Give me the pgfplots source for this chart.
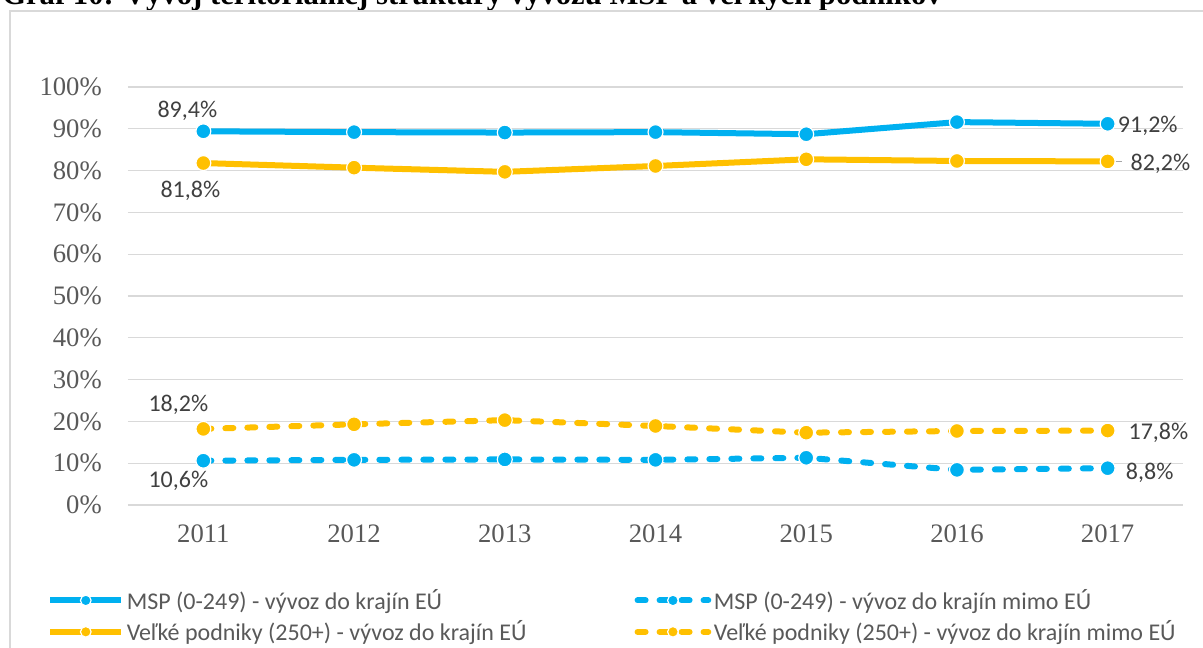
\documentclass[border=0pt]{standalone}
\usepackage{pgfplots}
\pgfplotsset{compat=1.18}
\usepackage{fontspec}
\setmainfont{Liberation Serif}
\newfontfamily\calibri{Carlito}
\definecolor{mspblue}{HTML}{00B0F0}
\definecolor{vpyellow}{HTML}{FFC000}
\definecolor{gridgray}{HTML}{D9D9D9}
\definecolor{labeltext}{HTML}{404040}
\definecolor{ticktext}{HTML}{595959}
\definecolor{leadergray}{HTML}{A6A6A6}
\begin{document}
\begin{tikzpicture}
\useasboundingbox (0,0) rectangle (902.25pt,486pt);
\clip (0,0) rectangle (902.25pt,486pt);
% title (cut off at top)
\node[anchor=base west, font=\bfseries\fontsize{23}{27}\selectfont, inner sep=0pt] at (1.5pt,482.25pt) {Graf 10: Vývoj teritoriálnej štruktúry vývozu MSP a veľkých podnikov};
% frame
\draw[gridgray, line width=1.1pt] (7.5pt,-10pt) -- (7.5pt,477.75pt) -- (920pt,477.75pt);
\begin{axis}[
  at={(96pt,107.25pt)}, anchor=south west,
  scale only axis, width=791.25pt, height=313.5pt,
  xmin=-0.5, xmax=6.5, ymin=0, ymax=100,
  axis line style={draw=none},
  major tick length=0pt,
  xtick={0,1,2,3,4,5,6},
  xticklabels={2011,2012,2013,2014,2015,2016,2017},
  ytick={0,10,20,30,40,50,60,70,80,90,100},
  yticklabels={0\%,10\%,20\%,30\%,40\%,50\%,60\%,70\%,80\%,90\%,100\%},
  tick label style={font=\fontsize{20}{24}\selectfont, text=ticktext},
  yticklabel style={anchor=east, inner sep=0pt, xshift=-19.5pt},
  xticklabel style={anchor=north, inner sep=0pt, yshift=-15pt},
  ymajorgrids, grid style={draw=gridgray, line width=0.8pt},
  clip=false,
  legend columns=2,
  legend cell align=left,
  legend style={at={(-0.0766,-0.195)}, anchor=north west, draw=none, fill=none,
    inner sep=0pt, font=\calibri\fontsize{18}{21}\selectfont, text=ticktext,
    row sep=3pt, nodes={inner sep=2pt},
    /tikz/every even column/.append style={column sep=79pt}},
  legend image code/.code={\draw[mark repeat=2,mark phase=2,#1,mark size=4pt] plot coordinates {(0pt,0pt) (26.5pt,0pt) (53pt,0pt)};},
  every axis plot/.append style={line width=4.5pt, line join=round},
]
\addplot[color=mspblue, mark=*, mark size=5.6pt, mark options={solid, fill=mspblue, draw=white, line width=0.9pt}]
  coordinates {(0,89.4) (1,89.2) (2,89.1) (3,89.2) (4,88.7) (5,91.6) (6,91.2)};
\addlegendentry{MSP (0-249) - vývoz do krajín EÚ}
\addplot[color=mspblue, line cap=round, dash pattern=on 6pt off 10.5pt, mark=*, mark size=5.6pt, mark options={solid, fill=mspblue, draw=white, line width=0.9pt}]
  coordinates {(0,10.6) (1,10.8) (2,10.9) (3,10.8) (4,11.3) (5,8.4) (6,8.8)};
\addlegendentry{MSP (0-249) - vývoz do krajín mimo EÚ}
\addplot[color=vpyellow, mark=*, mark size=5.6pt, mark options={solid, fill=vpyellow, draw=white, line width=0.9pt}]
  coordinates {(0,81.8) (1,80.7) (2,79.7) (3,81.1) (4,82.7) (5,82.3) (6,82.2)};
\addlegendentry{Veľké podniky (250+) - vývoz do krajín EÚ}
\addplot[color=vpyellow, line cap=round, dash pattern=on 6pt off 10.5pt, mark=*, mark size=5.6pt, mark options={solid, fill=vpyellow, draw=white, line width=0.9pt}]
  coordinates {(0,18.2) (1,19.3) (2,20.3) (3,18.9) (4,17.3) (5,17.7) (6,17.8)};
\addlegendentry{Veľké podniky (250+) - vývoz do krajín mimo EÚ}
% data labels
\begin{scope}[every node/.style={font=\calibri\fontsize{18}{21}\selectfont, text=labeltext, inner sep=0pt}]
\node[anchor=center] at ([xshift=-12pt,yshift=15.5pt]axis cs:0,89.4) {89,4\%};
\node[anchor=center] at ([xshift=-9.75pt,yshift=-21pt]axis cs:0,81.8) {81,8\%};
\node[anchor=center] at ([xshift=-18.75pt,yshift=18pt]axis cs:0,18.2) {18,2\%};
\node[anchor=center] at ([xshift=-18.75pt,yshift=-15pt]axis cs:0,10.6) {10,6\%};
\node[anchor=west] at ([xshift=7.5pt,yshift=-1.5pt]axis cs:6,91.2) {91,2\%};
\node[anchor=west] at ([xshift=17pt,yshift=-1.5pt]axis cs:6,82.2) {82,2\%};
\node[anchor=west] at ([xshift=15.5pt,yshift=-1.5pt]axis cs:6,17.8) {17,8\%};
\node[anchor=west] at ([xshift=13.5pt,yshift=-3.5pt]axis cs:6,8.8) {8,8\%};
\end{scope}
\draw[leadergray, line width=0.8pt] ([xshift=6pt]axis cs:6,82.2) -- ([xshift=11pt]axis cs:6,82.2);
\end{axis}
\end{tikzpicture}
\end{document}
